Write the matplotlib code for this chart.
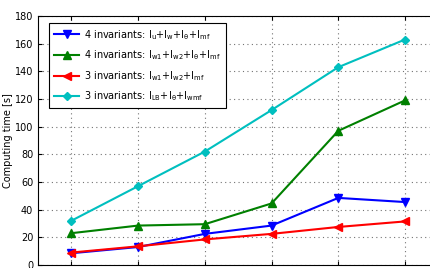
import numpy as np
import matplotlib.pyplot as plt

plt.rcParams['mathtext.default'] = 'regular'

x = np.arange(1, 7)
blue_4inv = [8.5, 13, 22.5, 28.5, 48.5, 45.5]
green_4inv = [23, 28.5, 29.5, 44.5, 97, 119]
red_3inv = [9, 13.5, 18.5, 22.5, 27.5, 31.5]
cyan_3inv = [32, 57, 82, 112, 143, 163]

labels = [r'4 invariants: I$_u$+I$_w$+I$_\theta$+I$_{mf}$',
          r'4 invariants: I$_{w1}$+I$_{w2}$+I$_\theta$+I$_{mf}$',
          r'3 invariants: I$_{w1}$+I$_{w2}$+I$_{mf}$',
          r'3 invariants: I$_{LB}$+I$_\theta$+I$_{wmf}$']

fig = plt.figure(figsize=(4.31, 2.68), dpi=100)
# axes run past the right and bottom edges (cropped figure)
ax = fig.add_axes([38/431, 3/268, 400.4/431, 249/268])

ax.plot(x, blue_4inv, color=(0, 0, 1), lw=1.5, marker='v', ms=5.5, label=labels[0])
ax.plot(x, green_4inv, color=(0, 0.5, 0), lw=1.5, marker='^', ms=5.5, label=labels[1])
ax.plot(x, red_3inv, color=(1, 0, 0), lw=1.5, marker='<', ms=5.5, label=labels[2])
ax.plot(x, cyan_3inv, color=(0, 0.75, 0.75), lw=1.5, marker='D', ms=4.5, label=labels[3])

ax.set_xlim(0.5, 6.5)
ax.set_ylim(0, 180)
ax.set_xticks(x)
ax.set_yticks(np.arange(0, 181, 20))
ax.tick_params(direction='in', top=True, right=True, labelsize=7, length=3)
ax.set_xticklabels([])
ax.grid(True, linestyle=(0, (1, 3)), color='0.45', lw=0.8)
ax.set_ylabel('Computing time [s]', fontsize=7, labelpad=1)

leg = ax.legend(loc='upper left', bbox_to_anchor=(11/400, 1-7/249), borderaxespad=0,
                fontsize=7, fancybox=False, edgecolor='black', framealpha=1,
                handlelength=2.6, borderpad=0.5, labelspacing=0.7, handletextpad=0.5)
leg.get_frame().set_linewidth(0.8)

plt.savefig('out.png', dpi=100)
